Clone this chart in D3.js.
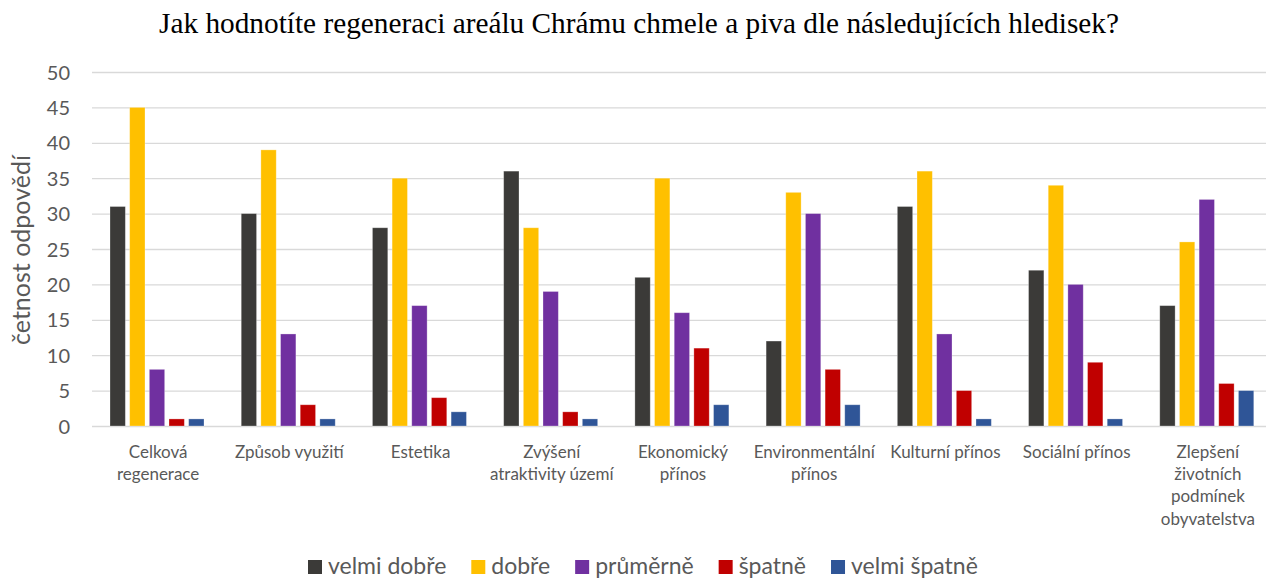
<!DOCTYPE html>
<html><head><meta charset="utf-8">
<script src="https://cdn.jsdelivr.net/npm/d3@7"></script>
<style>body{margin:0;background:#fff}svg{display:block}</style>
</head><body><svg id="c" width="1266" height="579"></svg>
<script>
const categories = [
  ["Celková","regenerace"],
  ["Způsob využití"],
  ["Estetika"],
  ["Zvýšení","atraktivity území"],
  ["Ekonomický","přínos"],
  ["Environmentální","přínos"],
  ["Kulturní přínos"],
  ["Sociální přínos"],
  ["Zlepšení","životních","podmínek","obyvatelstva"]
];
const seriesNames = ["velmi dobře","dobře","průměrně","špatně","velmi špatně"];
const seriesColors = ["#3B3A38","#FFC000","#7030A0","#C00000","#2F5597"];
const velmiDobre  = [31,30,28,36,21,12,31,22,17];
const dobre       = [45,39,35,28,35,33,36,34,26];
const prumerne    = [8,13,17,19,16,30,13,20,32];
const spatne      = [1,3,4,2,11,8,5,9,6];
const velmiSpatne = [1,1,2,1,3,3,1,1,5];
const yTicks = [0,5,10,15,20,25,30,35,40,45,50];
const title = "Jak hodnotíte regeneraci areálu Chrámu chmele a piva dle následujících hledisek?";
const yTitle = "četnost odpovědí";

const series = [velmiDobre, dobre, prumerne, spatne, velmiSpatne];
const font = "Lato, 'Open Sans', sans-serif";
const svg = d3.select("#c");

const x0 = d3.scaleBand().domain(d3.range(categories.length)).range([92, 1273]).padding(0);
const x1 = d3.scaleBand().domain(d3.range(series.length)).range([18, 112]).paddingInner(0.22).paddingOuter(0);
const y = d3.scaleLinear().domain([0, 50]).range([426, 72]);

// title
svg.append("text").attr("x", 639).attr("y", 33).attr("text-anchor","middle")
  .attr("font-family","'Liberation Serif','Times New Roman',serif").attr("font-size", 29.3)
  .attr("fill","#000").text(title);

// gridlines
const grid = svg.append("g");
grid.selectAll("line").data(yTicks).join("line")
  .attr("x1", 92).attr("x2", 1266)
  .attr("y1", d => y(d)+0.5).attr("y2", d => y(d)+0.5)
  .attr("stroke", "#D9D9D9").attr("stroke-width", 1.3);

// y axis labels
const yAxis = d3.axisLeft(y).tickValues(yTicks).tickSize(0).tickPadding(0);
const ya = svg.append("g").attr("transform","translate(70,0)").call(yAxis);
ya.select(".domain").remove();
ya.selectAll("text").attr("font-family", font).attr("font-size", 20).attr("fill","#595959").attr("dy","0.35em");

// y title
svg.append("text").attr("transform","translate(30,250) rotate(-90)").attr("text-anchor","middle")
  .attr("font-family", font).attr("font-size", 25).attr("fill","#595959").text(yTitle);

// bars
const groups = svg.append("g").selectAll("g").data(categories).join("g")
  .attr("transform", (d,i) => `translate(${x0(i)},0)`);
groups.selectAll("rect").data((d,i) => series.map((s,j) => ({j, v: s[i]}))).join("rect")
  .attr("x", d => x1(d.j)).attr("width", x1.bandwidth())
  .attr("y", d => y(d.v)).attr("height", d => y(0) - y(d.v))
  .attr("fill", d => seriesColors[d.j])
  .attr("stroke", "#ffffff").attr("stroke-opacity", 0.35).attr("stroke-width", 0.8);

// x labels
const xl = svg.append("g");
categories.forEach((lines, i) => {
  const cx = x0(i) + x0.bandwidth()/2 + 0.5;
  const t = xl.append("text").attr("x", cx).attr("y", 458)
    .attr("text-anchor","middle").attr("font-family", font).attr("font-size", 17).attr("fill","#595959");
  lines.forEach((l, k) => t.append("tspan").attr("x", cx).attr("dy", k ? 22.2 : 0).text(l));
});

// legend
const lg = svg.append("g");
let lx = 308;
seriesNames.forEach((n, i) => {
  lg.append("rect").attr("x", lx).attr("y", 560).attr("width", 14).attr("height", 14).attr("fill", seriesColors[i]);
  const t = lg.append("text").attr("x", lx + 20).attr("y", 574).attr("font-family", font).attr("font-size", 23)
    .attr("fill","#595959").text(n);
  lx += 20 + t.node().getComputedTextLength() + 25;
});
</script></body></html>
